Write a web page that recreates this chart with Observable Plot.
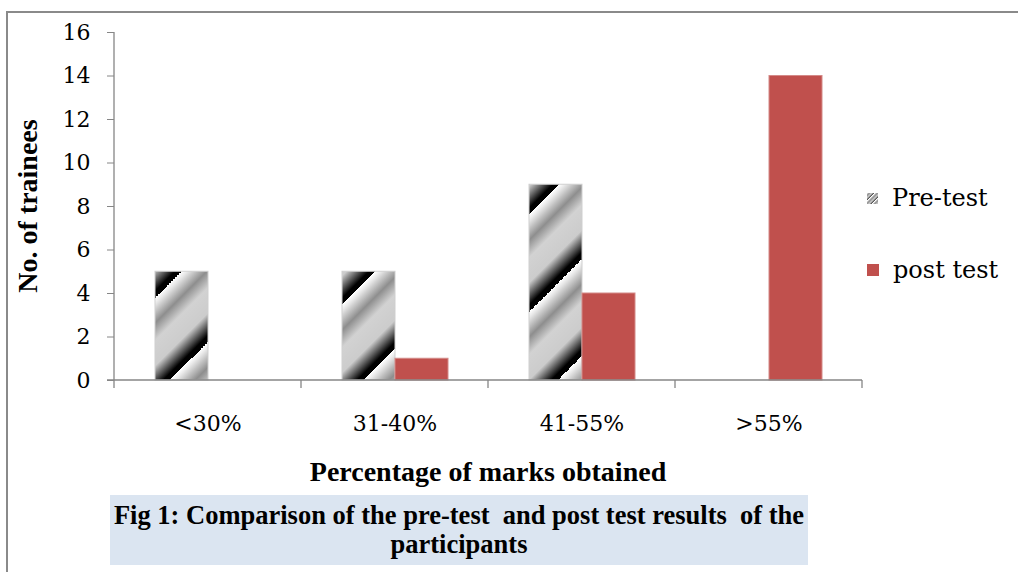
<!DOCTYPE html>
<html>
<head>
<meta charset="utf-8">
<script src="https://cdn.jsdelivr.net/npm/d3@7"></script>
<script src="https://cdn.jsdelivr.net/npm/@observablehq/plot@0.6"></script>
<style>
  html, body { margin: 0; padding: 0; background: #fff; }
  #wrap { position: relative; width: 1018px; height: 572px; overflow: hidden; background: #fff; }
  #frame { position: absolute; left: 6px; top: 11px; width: 1100px; height: 700px;
           border-left: 2px solid #8a8a8a; border-top: 2px solid #8a8a8a; }
  #chart { position: absolute; left: 0; top: 0; }
  .bold { font-family: "Liberation Serif", serif; font-weight: bold; color: #000; white-space: nowrap; }
  #ytitle { position: absolute; left: 28px; top: 206px; font-size: 28px; line-height: 1;
            transform: translate(-50%, -50%) rotate(-90deg); }
  #xtitle { position: absolute; left: 0; width: 976px; top: 455px; text-align: center;
            font-size: 28px; line-height: 34px; }
  #caption { position: absolute; left: 110px; top: 495px; width: 698px; height: 70px;
             box-sizing: border-box; padding-top: 6px; background: #dbe5f1; text-align: center;
             font-size: 26.5px; line-height: 29px; }
  .leg { position: absolute; left: 867px; display: flex; align-items: center;
         font-family: "DejaVu Serif", serif; font-size: 24px; line-height: 30px; color: #000; white-space: nowrap; }
  .leg svg { margin-right: 14px; }
</style>
</head>
<body>
<svg width="0" height="0" style="position:absolute">
  <defs>
    <linearGradient id="preGrad" gradientUnits="userSpaceOnUse" x1="226.5" y1="226.5" x2="275" y2="275" spreadMethod="repeat">
      <stop offset="0" stop-color="#ffffff"/>
      <stop offset="0.06" stop-color="#e8e8e8"/>
      <stop offset="0.26" stop-color="#8e8e8e"/>
      <stop offset="0.44" stop-color="#d2d2d2"/>
      <stop offset="0.70" stop-color="#cccccc"/>
      <stop offset="0.93" stop-color="#000000"/>
      <stop offset="1" stop-color="#000000"/>
    </linearGradient>
    <linearGradient id="preSwatch" gradientUnits="userSpaceOnUse" x1="0" y1="0" x2="4" y2="4" spreadMethod="repeat">
      <stop offset="0" stop-color="#ffffff"/>
      <stop offset="0.3" stop-color="#8a8a8a"/>
      <stop offset="0.6" stop-color="#d0d0d0"/>
      <stop offset="1" stop-color="#222222"/>
    </linearGradient>
  </defs>
</svg>
<div id="wrap">
  <div id="frame"></div>
  <div id="chart"></div>
  <div id="ytitle" class="bold">No. of trainees</div>
  <div id="xtitle" class="bold">Percentage of marks obtained</div>
  <div id="caption" class="bold">Fig 1: Comparison of the pre-test&nbsp; and post test results&nbsp; of the<br>participants</div>
  <div id="legend"></div>
</div>
<script>
const categories = ["<30%", "31-40%", "41-55%", ">55%"];
const seriesNames = ["Pre-test", "post test"];
const preTest = [5, 5, 9, 0];
const postTest = [0, 1, 4, 14];
const yTicks = [0, 2, 4, 6, 8, 10, 12, 14, 16];

const rows = categories.flatMap((c, i) => [
  {category: c, series: seriesNames[0], value: preTest[i]},
  {category: c, series: seriesNames[1], value: postTest[i]}
]);

const axisLines = (index, scales) => {
  const {x, y} = scales;
  const bw = x.bandwidth();
  const left = x(categories[0]);
  const right = x(categories[categories.length - 1]) + bw;
  const y0 = y(0), yTop = y(yTicks[yTicks.length - 1]);
  const g = d3.create("svg:g").attr("stroke", "#868686").attr("stroke-width", 1.3).attr("fill", "none");
  g.append("line").attr("x1", left).attr("x2", left).attr("y1", yTop).attr("y2", y0);
  g.append("line").attr("x1", left - 7).attr("x2", right).attr("y1", y0).attr("y2", y0);
  const edges = categories.map(c => x(c)).concat([right]);
  for (const e of edges) {
    g.append("line").attr("x1", e).attr("x2", e).attr("y1", y0).attr("y2", y0 + 8);
  }
  return g.node();
};

const chart = Plot.plot({
  width: 1018,
  height: 440,
  marginLeft: 114,
  marginRight: 156,
  marginTop: 32,
  marginBottom: 60,
  style: {background: "transparent", fontFamily: "DejaVu Serif, serif", color: "#000"},
  x: {domain: categories, padding: 0},
  y: {domain: [0, 16]},
  marks: [
    Plot.barY(rows.filter(d => d.series === seriesNames[0] && d.value > 0), {
      x: "category", y: "value", fill: "url(#preGrad)", stroke: "#cfcfcf", strokeWidth: 1,
      insetLeft: 41, insetRight: 93
    }),
    Plot.barY(rows.filter(d => d.series === seriesNames[1] && d.value > 0), {
      x: "category", y: "value", fill: "#c0504d", stroke: "#d48a88", strokeWidth: 1,
      insetLeft: 94, insetRight: 40
    }),
    axisLines,
    Plot.axisY({ticks: yTicks, tickSize: 7, tickPadding: 17, fontSize: 22, stroke: "#868686", fill: "#000", label: null}),
    Plot.axisX({tickSize: 0, tickPadding: 35, fontSize: 22, fill: "#000", label: null})
  ]
});
document.getElementById("chart").appendChild(chart);

// legend
const legend = document.getElementById("legend");
const legendItems = [
  {name: seriesNames[0], fill: "url(#preSwatch)", top: 183, size: 11},
  {name: seriesNames[1], fill: "#c0504d", top: 255, size: 12}
];
for (const item of legendItems) {
  const div = document.createElement("div");
  div.className = "leg";
  div.style.top = item.top + "px";
  div.innerHTML = `<svg width="${item.size}" height="${item.size}"><rect width="${item.size}" height="${item.size}" fill="${item.fill}"/></svg><span>${item.name}</span>`;
  legend.appendChild(div);
}
</script>
</body>
</html>
